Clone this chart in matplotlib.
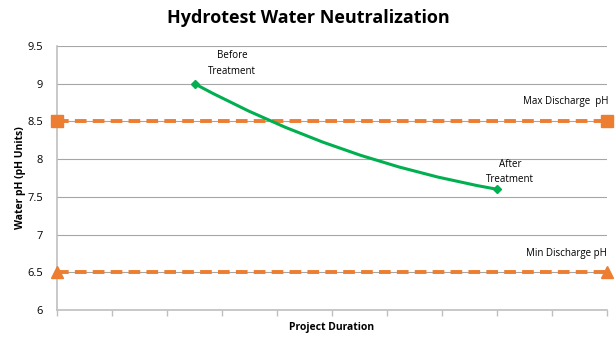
import numpy as np
import matplotlib.pyplot as plt
from matplotlib.path import Path
from matplotlib.patches import PathPatch

plt.rcParams['font.family'] = ['Open Sans', 'DejaVu Sans']

# project duration axis and the discharge limits
duration = [0, 10]
max_ph = [8.5, 8.5]
min_ph = [6.5, 6.5]

# water pH before and after treatment, with the bend of the curve between them
treat_x = [2.5, 8.0]
treat_ph = [9.0, 7.6]
bend = [5.1, 7.97]

orange = '#ED7D31'
green = '#00B050'
grid = '#BFBFBF'

fig = plt.figure(figsize=(6.16, 3.38), dpi=100)
ax = fig.add_axes([0.0925, 0.083, 0.893, 0.781])

ax.set_xlim(0, 10)
ax.set_ylim(6, 9.5)
ax.set_yticks(np.arange(6, 9.51, 0.5))
ax.set_yticklabels(['6', '6.5', '7', '7.5', '8', '8.5', '9', '9.5'])
ax.set_xticks(range(0, 11))
ax.set_xticklabels([])
ax.yaxis.grid(True, color='#A6A6A6', lw=0.8)
ax.set_axisbelow(True)
for s in ['top', 'right']:
    ax.spines[s].set_visible(False)
for s in ['left', 'bottom']:
    ax.spines[s].set_color(grid)
    ax.spines[s].set_linewidth(1.2)
ax.tick_params(axis='y', length=0, labelsize=8, pad=10)
ax.tick_params(axis='x', length=4, color=grid, width=1)

# limit lines
ax.plot(duration, max_ph, color=orange, lw=2.8, ls=(0, (3, 1.6)), marker='s',
        ms=8.5, clip_on=False, zorder=3)
ax.plot(duration, min_ph, color=orange, lw=2.8, ls=(0, (3, 1.6)), marker='^',
        ms=8.5, clip_on=False, zorder=3)

# treatment curve
verts = [(treat_x[0], treat_ph[0]), tuple(bend), (treat_x[1], treat_ph[1])]
path = Path(verts, [Path.MOVETO, Path.CURVE3, Path.CURVE3])
ax.add_patch(PathPatch(path, fc='none', ec=green, lw=2.2, zorder=4))
ax.plot(treat_x, treat_ph, ls='none', marker='D', ms=4.5, color=green, zorder=5)

ax.text(3.18, 9.27, 'Before\nTreatment', ha='center', va='center', fontsize=7,
        linespacing=1.6)
ax.text(8.24, 7.83, 'After\nTreatment', ha='center', va='center', fontsize=7,
        linespacing=1.6)
ax.text(9.24, 8.76, 'Max Discharge  pH', ha='center', va='center', fontsize=7)
ax.text(9.27, 6.75, 'Min Discharge pH', ha='center', va='center', fontsize=7)

ax.set_xlabel('Project Duration', fontsize=7.5, fontweight='bold', labelpad=1)
ax.set_ylabel('Water pH (pH Units)', fontsize=7.5, fontweight='bold', labelpad=1)
fig.text(0.5, 0.947, 'Hydrotest Water Neutralization', ha='center', va='center',
         fontsize=13, fontweight='bold')

fig.savefig('out.png', dpi=100)
